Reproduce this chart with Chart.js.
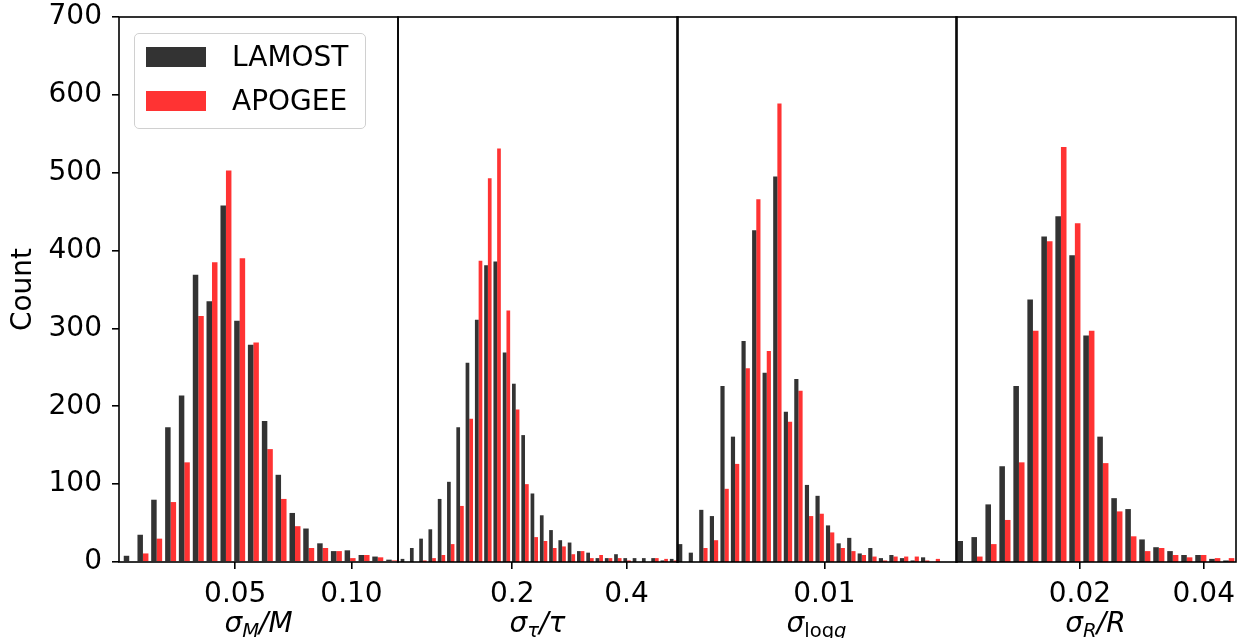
<!DOCTYPE html>
<html>
<head>
<meta charset="utf-8">
<script src="https://cdn.jsdelivr.net/npm/chart.js@4"></script>
<style>
  body { margin: 0; background: #fff; }
  #wrap { position: relative; width: 1245px; height: 638px; font-family: "DejaVu Sans"; color: #000; }
  .panel { position: absolute; top: 0; }
  .xlab { position: absolute; top: 606px; font-size: 28px; line-height: 34px; text-align: center; white-space: nowrap; }
  .xlab i { font-style: italic; }
  .xlab sub { font-size: 0.7em; vertical-align: -0.28em; line-height: 0; }
  #legend { position: absolute; left: 134px; top: 33px; width: 230px; height: 94px;
            border: 1.5px solid #d0d0d0; border-radius: 5px; background: rgba(255,255,255,0.8); }
  .item { position: absolute; left: 11px; height: 20px; }
  .swatch { position: absolute; left: 0; top: 0; width: 60px; height: 20px; }
  .item span { position: absolute; left: 86px; top: -7px; font-size: 28px; line-height: 34px; white-space: nowrap; }
</style>
</head>
<body>
<div id="wrap">
  <canvas id="c1" class="panel" style="left:0px" width="400" height="638"></canvas>
  <canvas id="c2" class="panel" style="left:397px" width="282" height="638"></canvas>
  <canvas id="c3" class="panel" style="left:676px" width="282" height="638"></canvas>
  <canvas id="c4" class="panel" style="left:955px" width="282" height="638"></canvas>

  <div class="xlab" style="left:119px;width:279px"><i>σ<sub>M</sub>/M</i></div>
  <div class="xlab" style="left:398px;width:279px"><i>σ<sub>τ</sub>/τ</i></div>
  <div class="xlab" style="left:677px;width:279px"><i>σ</i><sub>log<i>g</i></sub></div>
  <div class="xlab" style="left:956px;width:279px"><i>σ<sub>R</sub>/R</i></div>

  <div id="legend">
    <div class="item" style="top:13px"><div class="swatch" style="background:rgba(0,0,0,0.8)"></div><span>LAMOST</span></div>
    <div class="item" style="top:57px"><div class="swatch" style="background:rgba(255,0,0,0.8)"></div><span>APOGEE</span></div>
  </div>
</div>

<script>
// bin centres and counts for each uncertainty histogram
const massBins = [0.0044, 0.0103, 0.0162, 0.0222, 0.0281, 0.0341, 0.0400, 0.0460, 0.0519, 0.0578,
                  0.0638, 0.0697, 0.0757, 0.0816, 0.0876, 0.0935, 0.0994, 0.1054, 0.1113, 0.1173];
const massLamost = [8, 35, 80, 173, 214, 369, 335, 458, 310, 279, 181, 112, 63, 43, 24, 14, 15, 9, 7, 3];
const massApogee = [0, 11, 30, 77, 128, 316, 385, 503, 390, 282, 145, 81, 46, 18, 18, 14, 5, 9, 6, 2];

const ageBins = [0.0111, 0.0274, 0.0436, 0.0598, 0.0761, 0.0923, 0.1086, 0.1248, 0.1411, 0.1573,
                 0.1735, 0.1898, 0.2060, 0.2223, 0.2385, 0.2548, 0.2710, 0.2872, 0.3035, 0.3197,
                 0.3360, 0.3522, 0.3685, 0.3847, 0.4009, 0.4172, 0.4334, 0.4497, 0.4659, 0.4822];
const ageLamost = [4, 18, 30, 42, 81, 103, 173, 256, 311, 381, 386, 269, 229, 163, 88,
                   60, 41, 28, 25, 14, 12, 5, 5, 10, 5, 5, 5, 5, 2, 4];
const ageApogee = [0, 0, 2, 5, 9, 23, 72, 184, 387, 493, 531, 323, 196, 100, 32,
                   27, 18, 20, 10, 14, 5, 9, 5, 5, 2, 0, 0, 5, 4, 2];

const loggBins = [0.00036, 0.00108, 0.00179, 0.00251, 0.00323, 0.00394, 0.00466, 0.00538, 0.00609,
                  0.00681, 0.00753, 0.00824, 0.00896, 0.00968, 0.01039, 0.01111, 0.01183, 0.01254,
                  0.01326, 0.01398, 0.01469, 0.01541, 0.01613, 0.01684, 0.01756, 0.01828];
const loggLamost = [23, 12, 67, 59, 226, 161, 284, 426, 243, 495, 193, 235, 99, 85, 47, 24, 31, 11, 18, 5, 9, 5, 2, 6, 0, 0];
const loggApogee = [0, 0, 18, 28, 94, 126, 249, 466, 271, 589, 180, 220, 59, 62, 38, 18, 14, 9, 7, 2, 7, 7, 7, 2, 4, 0];

const radiusBins = [0.00113, 0.00339, 0.00565, 0.00790, 0.01016, 0.01242, 0.01468, 0.01694, 0.01919, 0.02145,
                    0.02371, 0.02597, 0.02823, 0.03048, 0.03274, 0.03500, 0.03726, 0.03952, 0.04177, 0.04403];
const radiusLamost = [27, 32, 74, 123, 226, 337, 418, 444, 394, 291, 161, 82, 68, 29, 19, 14, 9, 9, 4, 2];
const radiusApogee = [0, 7, 23, 54, 128, 297, 412, 533, 435, 297, 127, 65, 33, 14, 18, 9, 6, 9, 5, 5];

const countTicks = [0, 100, 200, 300, 400, 500, 600, 700];
const massTicks = [0.05, 0.10], massTickText = ['0.05', '0.10'];
const ageTicks = [0.2, 0.4], ageTickText = ['0.2', '0.4'];
const loggTicks = [0.01], loggTickText = ['0.01'];
const radiusTicks = [0.02, 0.04], radiusTickText = ['0.02', '0.04'];

const font = { family: 'DejaVu Sans', size: 28 };

// black box around every panel
const frame = {
  id: 'frame',
  afterDraw(chart) {
    const { ctx, chartArea: a } = chart;
    ctx.save();
    ctx.strokeStyle = '#000';
    ctx.lineWidth = 1.6;
    ctx.strokeRect(a.left, a.top, a.right - a.left, a.bottom - a.top);
    ctx.restore();
  }
};

function panel(id, bins, lamost, apogee, xMax, tickVals, tickText, first) {
  const pts = ys => bins.map((x, i) => ({ x: x, y: ys[i] }));
  return new Chart(document.getElementById(id), {
    type: 'bar',
    data: {
      datasets: [
        { label: 'LAMOST', data: pts(lamost), backgroundColor: 'rgba(0,0,0,0.8)', borderWidth: 0 },
        { label: 'APOGEE', data: pts(apogee), backgroundColor: 'rgba(255,0,0,0.8)', borderWidth: 0 }
      ]
    },
    options: {
      responsive: false,
      animation: false,
      categoryPercentage: 0.8,
      barPercentage: 1.0,
      layout: { padding: { top: 17, bottom: 0, left: first ? 0 : 1, right: first ? 2 : 1 } },
      plugins: { legend: { display: false }, tooltip: { enabled: false } },
      scales: {
        x: {
          type: 'linear', min: 0, max: xMax, offset: false,
          afterBuildTicks: s => { s.ticks = tickVals.map(v => ({ value: v })); },
          afterFit: s => { s.height = 76; s.paddingLeft = 0; s.paddingRight = 0; },
          grid: { offset: false, drawOnChartArea: false, drawTicks: true, tickLength: 7, color: '#000', lineWidth: 1.6 },
          border: { display: false },
          ticks: { autoSkip: false, maxRotation: 0, padding: 9, color: '#000', font: font,
                   callback: (v, i) => tickText[i] }
        },
        y: {
          display: first, min: 0, max: 700,
          afterBuildTicks: s => { s.ticks = countTicks.map(v => ({ value: v })); },
          // keep the plot box fixed: no extra room for the end labels
          afterFit: s => { s.width = first ? 119 : 0; s.paddingTop = 0; s.paddingBottom = 0; },
          grid: { drawOnChartArea: false, drawTicks: true, tickLength: 7, color: '#000', lineWidth: 1.6 },
          border: { display: false },
          title: { display: true, text: 'Count', color: '#000', font: { family: 'DejaVu Sans', size: 28 },
                   padding: { top: 7, bottom: 0 } },
          ticks: { padding: 10, color: '#000', font: font }
        }
      }
    },
    plugins: [frame]
  });
}

panel('c1', massBins, massLamost, massApogee, 0.12, massTicks, massTickText, true);
panel('c2', ageBins, ageLamost, ageApogee, 0.49, ageTicks, ageTickText, false);
panel('c3', loggBins, loggLamost, loggApogee, 0.019, loggTicks, loggTickText, false);
panel('c4', radiusBins, radiusLamost, radiusApogee, 0.0452, radiusTicks, radiusTickText, false);
</script>
</body>
</html>
